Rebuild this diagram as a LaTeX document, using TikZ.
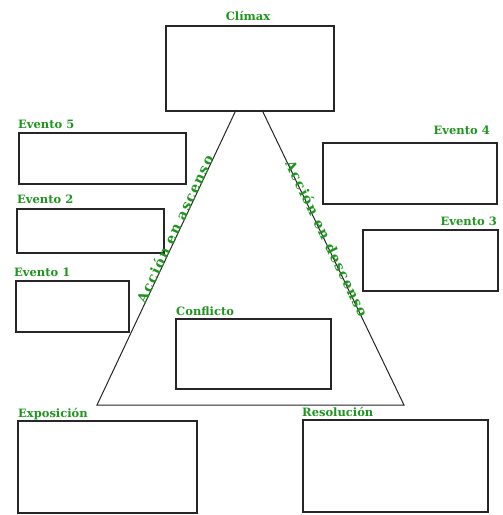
\documentclass[tikz,border=0pt]{standalone}
\usepackage{fontspec}
\setmainfont{DejaVu Serif}
\definecolor{lbl}{RGB}{30,150,30}
\begin{document}
\begin{tikzpicture}[x=1pt,y=-1pt,
  box/.style={draw=black!85,line width=1.5pt,inner sep=0pt,anchor=north west},
  lab/.style={font=\bfseries\fontsize{11.5}{13}\selectfont,text=lbl,inner sep=0pt},
  slab/.style={font=\bfseries\fontsize{14}{16}\selectfont\addfontfeatures{LetterSpace=9},text=lbl,inner sep=0pt},
  tri/.style={draw=black!85,line width=1pt}]
\useasboundingbox[fill=white] (0,0) rectangle (503,515);
% boxes
\node[box,minimum width=168pt,minimum height=85pt] (climax) at (165,25) {};
\node[box,minimum width=167pt,minimum height=51pt] (ev5) at (18,132) {};
\node[box,minimum width=147pt,minimum height=44pt] (ev2) at (16,208) {};
\node[box,minimum width=113pt,minimum height=51pt] (ev1) at (15,280) {};
\node[box,minimum width=174pt,minimum height=61pt] (ev4) at (322,142) {};
\node[box,minimum width=135pt,minimum height=61pt] (ev3) at (362,229) {};
\node[box,minimum width=155pt,minimum height=70pt] (conf) at (175,318) {};
\node[box,minimum width=179pt,minimum height=92pt] (expo) at (17,420) {};
\node[box,minimum width=185pt,minimum height=92pt] (reso) at (302,419) {};
% triangle
\coordinate (tL) at (236,110);
\coordinate (tR) at (262,110);
\coordinate (bL) at (97,405);
\coordinate (bR) at (404,405);
\draw[tri] (tL) -- (bL) -- (bR) -- (tR);
% labels
\node[lab,anchor=base] (lclimax) at (248,20) {Clímax};
\node[lab,anchor=base west] (lev5) at (18,128) {Evento 5};
\node[lab,anchor=base west] (lev2) at (17,203) {Evento 2};
\node[lab,anchor=base west] (lev1) at (14,276) {Evento 1};
\node[lab,anchor=base east] (lev4) at (490,134) {Evento 4};
\node[lab,anchor=base east] (lev3) at (497,225) {Evento 3};
\node[lab,anchor=base west] (lconf) at (176,315) {Conflicto};
\node[lab,anchor=base west] (lexpo) at (18,417) {Exposición};
\node[lab,anchor=base west] (lreso) at (302,416) {Resolución};
\path (tL) -- (bL) node[slab,pos=0.41,rotate=64.8,anchor=south,yshift=-1pt] (lasc) {Acción en ascenso};
\path (tR) -- (bR) node[slab,pos=0.44,rotate=-64.3,anchor=south,yshift=-3pt] (ldesc) {Acción en descenso};
\end{tikzpicture}
\end{document}
